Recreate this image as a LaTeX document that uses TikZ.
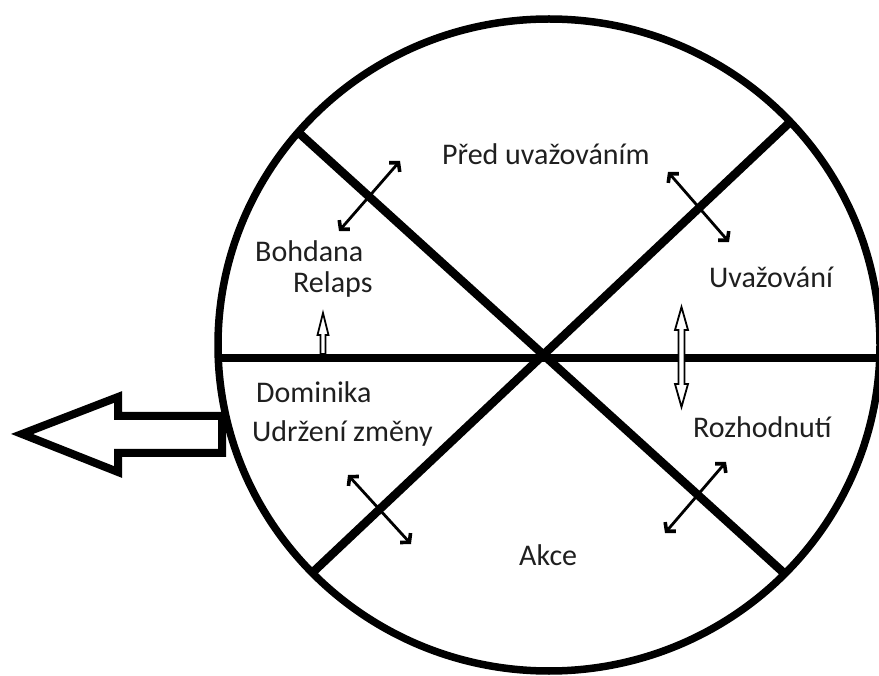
\documentclass[tikz,border=0pt]{standalone}
\usepackage{fontspec}
\setmainfont{Carlito}
\usetikzlibrary{arrows.meta}
\begin{document}
\begin{tikzpicture}[x=1pt,y=-1pt,
  rim/.style={line width=7.5pt},
  spoke/.style={line width=8.5pt},
  dbl/.style={line width=2.8pt,
    {Straight Barb[length=6pt,width=14pt,line width=3.6pt]}-{Straight Barb[length=6pt,width=14pt,line width=3.6pt]}},
  hollow/.style={line width=1.8pt, fill=white, line join=miter},
  bigarrow/.style={line width=8pt, fill=white, line join=miter, miter limit=10},
  lbl/.style={anchor=base west, inner sep=0pt, text=black!88, font=\fontsize{30}{36}\selectfont}]
\useasboundingbox (0,0) rectangle (879,676);
% circle
\coordinate (C) at (549,345);
\draw[rim] (C) ellipse [x radius=331, y radius=326];
% spokes
\coordinate (HL) at (218,358);
\coordinate (HR) at (882,358);
\coordinate (D1a) at (299,133);
\coordinate (D1b) at (785,574);
\coordinate (D2a) at (788,124);
\coordinate (D2b) at (311,574);
\draw[spoke] (HL) -- (HR);
\draw[spoke] (D1a) -- (D1b);
\draw[spoke] (D2a) -- (D2b);
% double-headed arrows across the spokes
\coordinate (a1s) at (339,231); \coordinate (a1e) at (400,161);
\coordinate (a2s) at (668,172); \coordinate (a2e) at (729,242);
\coordinate (a3s) at (348,475); \coordinate (a3e) at (411,544);
\coordinate (a4s) at (665,533); \coordinate (a4e) at (726,462);
\draw[dbl] (a1s) -- (a1e);
\draw[dbl] (a2s) -- (a2e);
\draw[dbl] (a3s) -- (a3e);
\draw[dbl] (a4s) -- (a4e);
% hollow small arrows
\draw[hollow] (323,313) -- (317.5,335) -- (320.5,335) -- (320.5,354)
  -- (325.5,354) -- (325.5,335) -- (328.5,335) -- cycle;
\draw[hollow] (681.5,307) -- (675,330) -- (678.5,330) -- (678.5,384)
  -- (675,384) -- (681.5,407) -- (688,384) -- (684.5,384) -- (684.5,330)
  -- (688,330) -- cycle;
% big hollow arrow on the left
\draw[bigarrow] (22,434) -- (118,397) -- (118,416) -- (222,416) -- (222,453)
  -- (118,453) -- (118,472) -- cycle;
% labels
\node[lbl] (t1) at (442,165) {Před uvažováním};
\node[lbl] (t2) at (709,288) {Uvažování};
\node[lbl] (t3) at (255,262) {Bohdana};
\node[lbl] (t4) at (293,293) {Relaps};
\node[lbl] (t5) at (256,403) {Dominika};
\node[lbl] (t6) at (252,442) {Udržení změny};
\node[lbl] (t7) at (693,438) {Rozhodnutí};
\node[lbl] (t8) at (519,565) {Akce};
\end{tikzpicture}
\end{document}
